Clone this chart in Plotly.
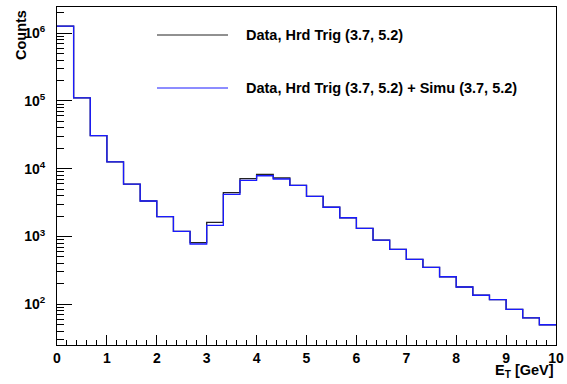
import plotly.graph_objects as go

bin_edges = [i / 3 for i in range(31)]
data_counts = [1.27e6, 1.11e5, 3.07e4, 1.26e4, 5.94e3, 3.34e3, 1.96e3, 1.19e3, 811, 1620,
               4430, 7120, 8260, 7300, 5690, 3920, 2700, 1890, 1320, 887,
               647, 461, 351, 255, 180, 136, 117, 84, 63, 50]
sum_counts = [1.27e6, 1.11e5, 3.07e4, 1.26e4, 5.94e3, 3.34e3, 1.96e3, 1.19e3, 775, 1460,
              4190, 6740, 7880, 7050, 5690, 3920, 2700, 1890, 1320, 887,
              647, 461, 351, 255, 180, 136, 117, 84, 63, 50]
legend_labels = ["Data, Hrd Trig (3.7, 5.2)", "Data, Hrd Trig (3.7, 5.2) + Simu (3.7, 5.2)"]
series_colors = ["#222222", "#1a1aff"]
y_tickvals = [1e2, 1e3, 1e4, 1e5, 1e6]
y_ticktext = ["10<sup>2</sup>", "10<sup>3</sup>", "10<sup>4</sup>", "10<sup>5</sup>", "10<sup>6</sup>"]

fig = go.Figure()
for vals, col, name in zip([data_counts, sum_counts], series_colors, legend_labels):
    fig.add_trace(go.Scatter(x=bin_edges, y=vals + [vals[-1]], mode="lines",
                             line=dict(shape="hv", color=col, width=1.3),
                             name=name, showlegend=False, hoverinfo="skip"))

FAM = "Liberation Sans, Arial, sans-serif"
font = dict(family=FAM, size=14.5, color="black")
tfont = dict(family=FAM, size=14, color="black", weight="bold")
fig.update_layout(
    width=567, height=384,
    margin=dict(l=57, r=11, t=7, b=39),
    paper_bgcolor="white", plot_bgcolor="white",
    font=font,
    xaxis=dict(range=[0, 10], showgrid=False, zeroline=False, showline=True, mirror=True,
               automargin=False,
               linecolor="black", linewidth=1, ticks="inside", ticklen=10, tickcolor="black",
               dtick=1, tick0=0, tickfont=tfont,
               minor=dict(ticks="inside", ticklen=5, dtick=0.2, tickcolor="black", showgrid=False)),
    yaxis=dict(type="log", range=[1.400, 6.385], showgrid=False, zeroline=False, showline=True,
               automargin=False, ticklabelstandoff=8,
               mirror=True, linecolor="black", linewidth=1, ticks="inside", ticklen=15,
               tickcolor="black", tickvals=y_tickvals, ticktext=y_ticktext, tickfont=tfont,
               minor=dict(ticks="inside", ticklen=7, dtick="D1", tickcolor="black", showgrid=False)),
)

legend_y = [35, 88]
for yy, col, name in zip(legend_y, series_colors, legend_labels):
    fig.add_shape(type="line", xref="paper", yref="paper",
                  x0=(157 - 57) / 499, x1=(228 - 57) / 499,
                  y0=1 - (yy - 7) / 338, y1=1 - (yy - 7) / 338,
                  line=dict(color=col, width=1))
    fig.add_annotation(text="<b>" + name + "</b>", xref="paper", yref="paper",
                       x=(244 - 57) / 499, y=1 - (yy - 7) / 338, xanchor="left", yanchor="middle",
                       showarrow=False, font=font)

fig.add_annotation(text="<b>E<sub>T</sub> [GeV]</b>", xref="paper", yref="paper",
                   x=1, y=-(371 - 345) / 338, xanchor="right", yanchor="middle",
                   showarrow=False, font=font)
fig.add_annotation(text="<b>Counts</b>", xref="paper", yref="paper", textangle=-90,
                   x=-(57 - 21) / 499, y=1 - (8 - 7) / 338, xanchor="center", yanchor="top",
                   showarrow=False, font=dict(family=FAM, size=14.5, color="black"))

fig.write_html("out.html", config={"displayModeBar": False},
               post_script="document.body.style.margin='0';document.body.style.overflow='hidden';")
